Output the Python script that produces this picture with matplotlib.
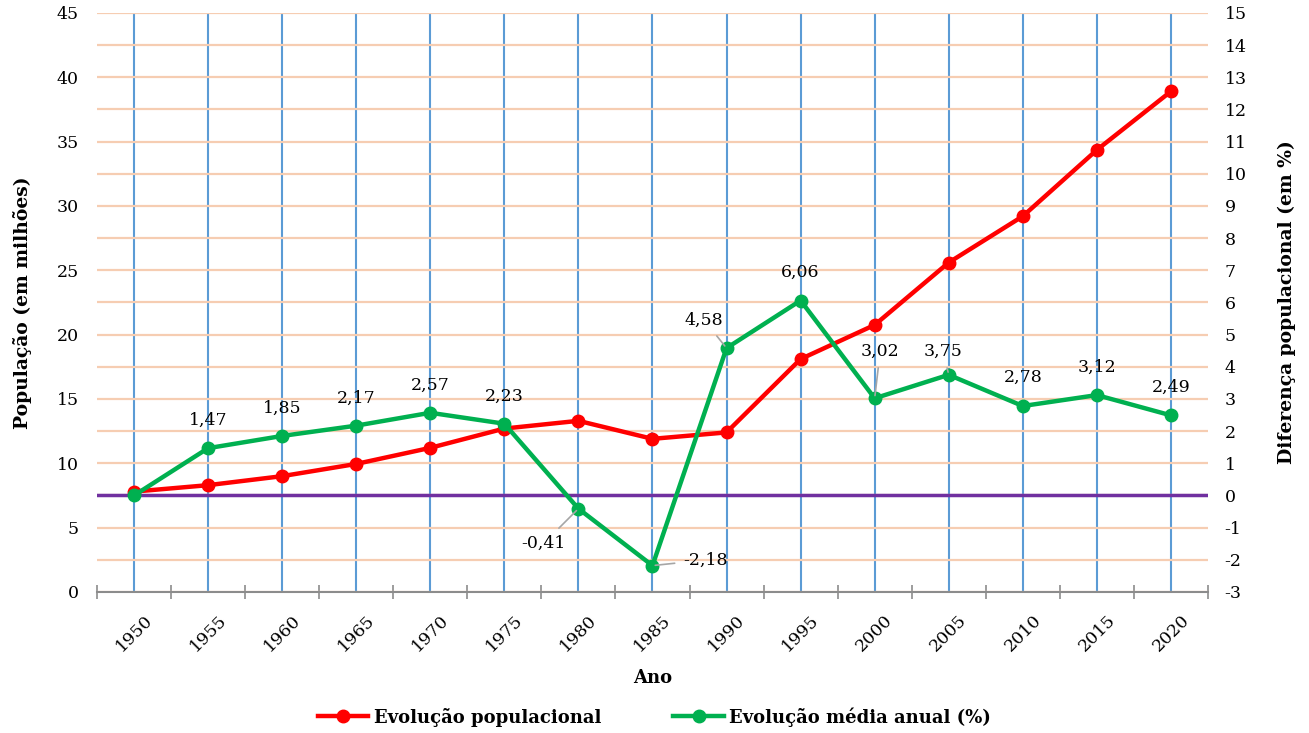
import matplotlib
matplotlib.use('Agg')
import matplotlib.pyplot as plt
from matplotlib.ticker import MultipleLocator

plt.rcParams['font.family'] = ['DejaVu Serif']
plt.rcParams['axes.unicode_minus'] = False

# dados
anos = ['1950', '1955', '1960', '1965', '1970', '1975', '1980', '1985',
        '1990', '1995', '2000', '2005', '2010', '2015', '2020']
populacao = [7.8, 8.3, 9.0, 9.95, 11.2, 12.7, 13.3, 11.9, 12.4, 18.1, 20.75, 25.6, 29.2, 34.35, 38.9]
variacao = [0.0, 1.47, 1.85, 2.17, 2.57, 2.23, -0.41, -2.18, 4.58, 6.06, 3.02, 3.75, 2.78, 3.12, 2.49]
rotulos = ['', '1,47', '1,85', '2,17', '2,57', '2,23', '-0,41', '-2,18', '4,58', '6,06',
           '3,02', '3,75', '2,78', '3,12', '2,49']

# deslocamento dos rótulos (pontos) e se leva linha de chamada
desloc = [(0, 0), (0, 20), (0, 20), (0, 20), (0, 20), (0, 20), (-25, -25), (38, 4),
          (-16, 20), (0, 20), (4, 34), (-4, 17), (0, 21), (0, 20), (0, 20)]
chamada = [False, False, False, False, False, False, True, True,
           True, False, True, True, False, False, False]

x = list(range(len(anos)))

fig = plt.figure(figsize=(13.09, 7.33), dpi=100)
ax = fig.add_axes([0.0741, 0.1924, 0.8487, 0.79])
ax2 = ax.twinx()

# eixo esquerdo
ax.set_xlim(-0.5, len(anos) - 0.5)
ax.set_ylim(0, 45)
ax.yaxis.set_major_locator(MultipleLocator(5))
ax.yaxis.set_minor_locator(MultipleLocator(2.5))
ax.grid(axis='y', which='both', color='#F6CDB2', lw=1.6, zorder=0)
ax.set_xticks(x)
ax.set_xticklabels(anos, rotation=45, ha='center', fontsize=12.5)
ax.xaxis.set_minor_locator(MultipleLocator(1, offset=0.5))
ax.tick_params(axis='x', which='major', length=0, pad=14)
ax.tick_params(axis='x', which='minor', length=10, direction='inout', color='#8C8C8C', width=1.2)
ax.tick_params(axis='y', which='both', length=0, labelsize=12.5, pad=13)
for xi in x:
    ax.axvline(xi, color='#5B9BD5', lw=1.5, zorder=1)
for s in ['top', 'left', 'right']:
    ax.spines[s].set_visible(False)
ax.spines['bottom'].set_color('#8C8C8C')
ax.spines['bottom'].set_linewidth(1.5)
ax.spines['bottom'].set_zorder(5)

l1, = ax.plot(x, populacao, color='#FF0000', lw=3.2, marker='o', ms=9, zorder=3,
              label='Evolução populacional')

ax.set_xlabel('Ano', fontsize=13, fontweight='bold', labelpad=10)
ax.set_ylabel('População (em milhões)', fontsize=13.5, fontweight='bold', labelpad=18)

# eixo direito
ax2.set_ylim(-3, 15)
ax2.yaxis.set_major_locator(MultipleLocator(1))
ax2.tick_params(axis='y', length=0, labelsize=12.5, pad=12)
for s in ['top', 'left', 'right', 'bottom']:
    ax2.spines[s].set_visible(False)
ax2.axhline(0, color='#7030A0', lw=2.5, zorder=2)
l2, = ax2.plot(x, variacao, color='#00B050', lw=3.2, marker='o', ms=9, zorder=4,
               label='Evolução média anual (%)')
ax2.set_ylabel('Diferença populacional (em %)', fontsize=13.5, fontweight='bold', labelpad=22)

for xi, v, t, d, c in zip(x, variacao, rotulos, desloc, chamada):
    if not t:
        continue
    props = dict(arrowstyle='-', color='#A6A6A6', lw=1.2, shrinkA=4, shrinkB=2) if c else None
    ax2.annotate(t, (xi, v), xytext=d, textcoords='offset points', ha='center', va='center',
                 fontsize=12.5, arrowprops=props, zorder=6)

fig.legend(handles=[l1, l2], loc='center', bbox_to_anchor=(0.5, 0.022), ncol=2,
           frameon=False, handlelength=2.8, handletextpad=0.3, columnspacing=4.0,
           prop={'weight': 'bold', 'size': 13, 'family': 'DejaVu Serif'})

fig.savefig('out.png', dpi=100)
